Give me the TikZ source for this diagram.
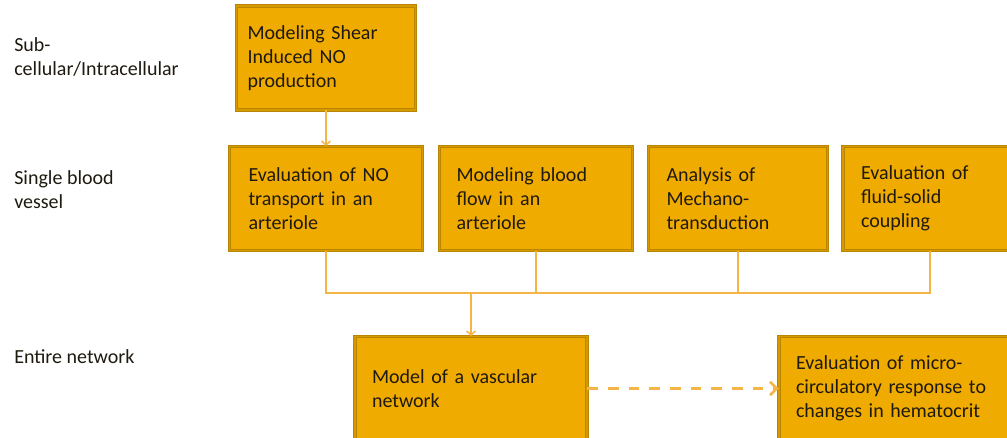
\documentclass[tikz,border=0pt]{standalone}
\usepackage{fontspec}
\setmainfont{Carlito}
\usetikzlibrary{arrows.meta}
\definecolor{boxfill}{RGB}{240,171,0}
\definecolor{boxedge}{RGB}{184,134,0}
\definecolor{boxmid}{RGB}{214,153,0}
\definecolor{linkcol}{RGB}{244,180,70}
\definecolor{textcol}{RGB}{30,26,16}

\begin{document}
\begin{tikzpicture}[x=0.75pt, y=-0.75pt,
  box/.style={draw=boxedge, line width=0.7pt, double=boxmid, double distance=1.1pt,
    fill=boxfill, align=left, minimum height=78pt, text=textcol,
    font=\fontsize{15}{18}\selectfont},
  lab/.style={anchor=west, align=left, inner sep=0pt, text=textcol,
    font=\fontsize{15}{18}\selectfont},
  link/.style={linkcol, line width=1.1pt},
  dashlink/.style={linkcol, line width=2.2pt, dash pattern=on 8pt off 7.5pt,
    -{Straight Barb[length=5pt, width=10pt, line width=2pt]}}]

\useasboundingbox (0,0) rectangle (1007,438);
\clip (0,0) rectangle (1007,438);

% level labels
\node[lab] (sub) at (14,57) {Sub-\\cellular/Intracellular};
\node[lab] (single) at (14,189.5) {Single blood\\vessel};
\node[lab] (entire) at (14,357) {Entire network};

% boxes
\node[box, text width=117.75pt, inner xsep=8.25pt] (shear) at (326,58)
{Modeling Shear\\Induced NO\\production};

\node[box, text width=116.25pt, inner xsep=14.25pt] (transport) at (326,198.5)
{Evaluation of NO\\transport in an\\arteriole};
\node[box, text width=119.25pt, inner xsep=12.75pt] (flow) at (536,198.5)
{Modeling blood\\flow in an\\arteriole};
\node[box, text width=107.25pt, inner xsep=13.5pt] (mechano) at (738,198.5)
{Analysis of\\Mechano-\\transduction};
\node[box, text width=103.5pt, inner xsep=13.5pt] (coupling) at (930,198.5)
{Evaluation of\\fluid-solid\\coupling};

\node[box, text width=148.5pt, inner xsep=12.75pt] (network) at (471,388.5)
{Model of a vascular\\network};
\node[box, text width=148.5pt, inner xsep=12.75pt] (hematocrit) at (895,388.5)
{Evaluation of micro-\\circulatory response to\\changes in hematocrit};

% connectors
\coordinate (join) at (471,293);

\draw[link, -{Straight Barb[length=3pt, width=6.5pt]}] (shear.south) -- (transport.north);

\draw[link] (transport.south) |- (join);
\draw[link] (flow.south) |- (join);
\draw[link] (mechano.south) |- (join);
\draw[link] (coupling.south) |- (join);
\draw[link, -{Straight Barb[length=3pt, width=6.5pt]}] (join) -- (network.north);

\draw[dashlink] (network.east) -- (hematocrit.west);

\end{tikzpicture}
\end{document}
